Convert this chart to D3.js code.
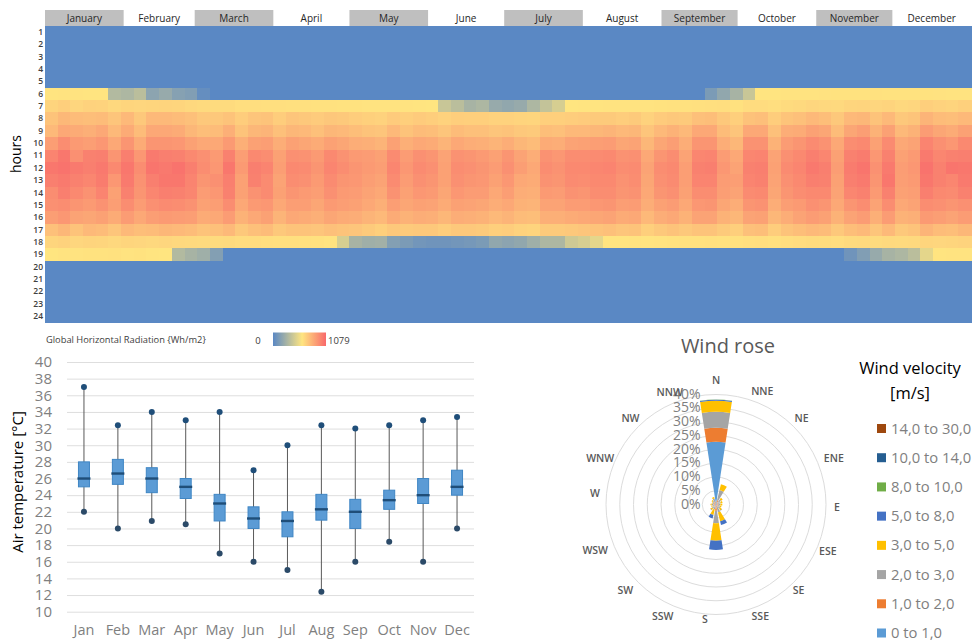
<!DOCTYPE html>
<html>
<head>
<meta charset="utf-8">
<title>Climate summary</title>
<script src="https://cdn.jsdelivr.net/npm/d3@7"></script>
<style>
  body { margin: 0; background: #fff; }
  svg { display: block; }
  text { font-family: "Open Sans", sans-serif; }
</style>
</head>
<body>
<div id="chart"></div>
<script>
// ---- heatmap data: Wh/m2, one value per 5 days of the year (73 values per hour)
const months = ["January", "February", "March", "April", "May", "June", "July", "August", "September", "October", "November", "December"];
const monthDays = [31, 28, 31, 30, 31, 30, 31, 31, 30, 31, 30, 31];
const hours = d3.range(1, 25);

const hour06 = [70,75,75,70,65,32,30,35,18,22, 16,14,4,0,0,0,0,0,0,0, 0,0,0,0,0,0,0,0,0,0, 0,0,0,0,0,0,0,0,0,0, 0,0,0,0,0,0,0,0,0,0, 0,0,12,20,28,40,65,72,75,78, 80,82,85,85,88,90,88,85,85,85, 82,80,78];
const hour07 = [200,240,180,220,210,170,190,180,190,200, 190,170,150,140,140,120,120,110,110,105, 100,95,90,85,85,80,80,78,75,72, 60,40,35,28,30,22,20,22,30,38, 45,60,70,72,75,78,80,80,85,90, 95,100,110,115,95,130,130,120,140,160, 180,170,160,190,200,180,200,170,180,240, 220,200,230];
const hour08 = [340,430,400,380,400,320,420,300,420,420, 400,360,300,300,340,260,320,340,260,320, 300,270,310,290,260,230,220,270,240,270, 250,220,250,240,240,220,220,200,190,240, 240,260,270,280,280,260,280,220,270,300, 280,360,380,300,240,350,370,260,330,360, 420,380,300,420,440,340,420,300,330,460, 400,380,420];
const hour09 = [420,560,540,500,560,420,540,400,560,560, 540,440,380,400,500,340,440,460,360,440, 420,360,440,420,380,340,320,420,340,400, 380,320,400,360,360,320,340,300,280,380, 360,420,420,440,460,420,440,320,420,480, 420,560,560,400,320,560,560,360,520,540, 620,580,400,580,640,480,620,420,480,660, 580,540,620];
const hour10 = [640,780,680,640,700,560,720,540,720,720, 700,620,560,560,680,500,620,640,520,620, 580,540,620,580,520,500,460,620,500,560, 540,460,560,520,500,460,520,440,400,540, 520,600,620,640,660,580,600,440,580,640, 520,720,720,520,440,740,740,480,660,720, 800,740,560,780,820,620,800,560,600,860, 760,700,820];
const hour11 = [860,960,760,880,900,720,900,700,940,900, 880,820,760,680,880,640,820,780,620,760, 740,680,820,740,680,660,620,800,660,760, 720,600,740,720,680,620,720,600,520,740, 700,780,780,800,820,740,760,560,720,780, 600,840,860,660,560,840,860,600,760,820, 900,840,620,880,920,700,880,620,680,940, 840,880,900];
const hour12 = [960,1000,940,900,950,820,960,780,980,950, 1000,900,780,700,960,680,900,860,640,820, 800,720,850,780,720,680,640,840,700,800, 760,620,780,760,720,660,760,640,560,780, 740,820,820,840,860,780,800,600,780,820, 640,880,900,700,600,880,900,620,800,850, 950,900,650,920,980,750,940,650,700,1000, 880,980,960];
const hour13 = [900,940,880,840,920,700,940,740,900,960, 960,860,720,760,900,620,880,800,600,780, 760,680,800,720,700,640,600,800,660,760, 720,620,760,720,700,620,700,560,540,740, 720,800,780,820,820,740,780,580,760,800, 640,860,860,660,640,860,880,600,760,820, 900,880,620,900,940,720,960,640,680,960, 880,840,940];
const hour14 = [780,900,820,740,860,620,880,720,840,900, 880,840,660,700,880,620,740,800,620,720, 680,640,760,680,660,600,560,740,620,700, 680,580,700,660,660,560,640,520,500,680, 660,740,720,780,780,720,740,560,720,760, 620,780,780,640,600,800,820,580,720,780, 820,820,600,840,880,680,880,620,640,900, 820,800,880];
const hour15 = [760,780,720,680,740,640,780,660,760,800, 780,740,620,640,780,560,680,700,560,640, 640,580,680,640,620,560,500,640,580,620, 600,540,620,600,580,520,560,480,460,600, 600,660,660,700,720,640,660,520,620,660, 560,700,720,580,520,720,740,520,640,680, 760,720,560,720,780,600,780,560,600,780, 760,720,760];
const hour16 = [640,700,600,580,620,540,660,560,640,680, 660,640,540,560,660,480,560,620,460,560, 540,500,580,540,520,460,420,540,480,520, 500,440,520,500,480,420,460,400,380,500, 500,540,560,580,600,540,560,420,520,560, 480,600,600,480,440,600,620,440,520,600, 660,620,480,600,660,500,660,480,500,680, 640,600,660];
const hour17 = [360,440,340,420,400,320,420,380,400,440, 420,400,340,360,420,300,360,400,300,340, 340,320,360,340,320,280,240,300,280,300, 300,260,300,300,280,240,260,220,200,280, 280,300,320,340,360,320,340,240,300,340, 300,340,340,280,240,360,380,260,340,380, 420,400,300,380,420,320,420,300,340,460, 400,380,440];
const hour18 = [190,220,180,200,190,170,190,180,170,180, 170,160,150,140,150,130,130,120,110,110, 100,90,80,45,28,25,26,15,12,9, 8,8,9,10,12,20,18,20,25,30, 30,42,45,50,65,70,75,70,80,85, 90,95,100,95,90,110,115,105,120,130, 140,135,125,150,160,140,160,150,160,190, 180,190,210];
const hour19 = [60,75,80,85,85,90,80,85,70,60, 32,28,25,15,0,0,0,0,0,0, 0,0,0,0,0,0,0,0,0,0, 0,0,0,0,0,0,0,0,0,0, 0,0,0,0,0,0,0,0,0,0, 0,0,0,0,0,0,0,0,0,0, 0,0,0,8,14,22,28,30,35,50, 70,75,80];
const sunHours = { 6: hour06, 7: hour07, 8: hour08, 9: hour09, 10: hour10, 11: hour11, 12: hour12, 13: hour13, 14: hour14, 15: hour15, 16: hour16, 17: hour17, 18: hour18, 19: hour19 };

// ---- box plot data: air temperature per month
const shortMonths = ["Jan", "Feb", "Mar", "Apr", "May", "Jun", "Jul", "Aug", "Sep", "Oct", "Nov", "Dec"];
const tempMin = [22, 20, 20.9, 20.5, 17, 16, 15, 12.4, 16, 18.4, 16, 20];
const tempQ1 = [25, 25.3, 24.3, 23.6, 20.9, 20, 19, 21, 20, 22.3, 23, 24];
const tempMedian = [26, 26.6, 26, 25, 23, 21.2, 20.9, 22.3, 22, 23.4, 24, 25];
const tempQ3 = [28, 28.3, 27.3, 26, 24.1, 22.6, 22, 24.1, 23.5, 24.6, 26, 27];
const tempMax = [37, 32.4, 34, 33, 34, 27, 30, 32.4, 32, 32.4, 33, 33.4];

// ---- wind rose data: % of time per direction and velocity class
const directions = ["N", "NNE", "NE", "ENE", "E", "ESE", "SE", "SSE", "S", "SSW", "SW", "WSW", "W", "WNW", "NW", "NNW"];
const wind0to1 = [22.8, 0.8, 0.4, 0.3, 0.3, 0.3, 0.3, 0.5, 0.8, 0.3, 0.3, 0.3, 0.3, 0.3, 0.3, 0.4];
const wind1to2 = [5.1, 0.8, 0.5, 0.4, 0.4, 0.4, 0.4, 0.5, 1.5, 0.3, 0.4, 0.4, 0.5, 0.4, 0.5, 0.6];
const wind2to3 = [5.8, 3.8, 1.4, 1.1, 0.9, 0.8, 1.2, 2.0, 4.5, 1.3, 1.1, 0.7, 0.8, 0.6, 0.8, 1.2];
const wind3to5 = [4.0, 2.2, 0.7, 0.7, 0.7, 0.6, 0.8, 3.3, 6.4, 2.0, 0.7, 0.4, 0.4, 0.3, 0.4, 0.6];
const wind5to8 = [0.4, 0, 0, 0, 0, 0, 0.1, 1.4, 3.3, 1.3, 0.1, 0, 0, 0, 0, 0];
const wind8to10 = [0.05, 0, 0, 0, 0, 0, 0, 0, 0, 0, 0, 0, 0, 0, 0, 0];
const wind10to14 = [0, 0, 0, 0, 0, 0, 0, 0, 0, 0, 0, 0, 0, 0, 0, 0];
const wind14to30 = [0, 0, 0, 0, 0, 0, 0, 0, 0, 0, 0, 0, 0, 0, 0, 0];
const windClasses = ["0 to 1,0", "1,0 to 2,0", "2,0 to 3,0", "3,0 to 5,0", "5,0 to 8,0", "8,0 to 10,0", "10,0 to 14,0", "14,0 to 30,0"];
const windSeries = [wind0to1, wind1to2, wind2to3, wind3to5, wind5to8, wind8to10, wind10to14, wind14to30];
const windColors = ["#5b9bd5", "#ed7d31", "#a5a5a5", "#ffc000", "#4472c4", "#70ad47", "#255e91", "#9e480e"];

const svg = d3.select("#chart").append("svg").attr("width", 974).attr("height", 643);

// ---- heatmap
const heat = { left: 45, right: 971, top: 26, bottom: 322.5 };
const dayScale = d3.scaleLinear().domain([0, 365]).range([heat.left, heat.right]);
const hourScale = d3.scaleBand().domain(hours).range([heat.top, heat.bottom]);
const heatColor = d3.scaleLinear().domain([0, 60, 1079]).range(["#5a88c4", "#ffe580", "#f8696b"]);

const monthStart = [0, ...d3.cumsum(monthDays)];
const monthGroup = svg.append("g");
months.forEach(function(m, i) {
    if (i % 2 == 0) {
        monthGroup.append("rect")
            .attr("x", dayScale(monthStart[i]))
            .attr("y", 10)
            .attr("width", dayScale(monthStart[i + 1]) - dayScale(monthStart[i]))
            .attr("height", 16)
            .attr("fill", "#bfbfbf");
    }
    monthGroup.append("text")
        .attr("x", (dayScale(monthStart[i]) + dayScale(monthStart[i + 1])) / 2)
        .attr("y", 22)
        .attr("text-anchor", "middle")
        .attr("font-size", "10px")
        .attr("fill", "#262626")
        .text(m);
});

const cells = [];
hours.forEach(function(h) {
    d3.range(73).forEach(function(b) {
        cells.push({ hour: h, bin: b, value: sunHours[h] ? sunHours[h][b] : 0 });
    });
});

svg.append("g")
    .attr("shape-rendering", "crispEdges")
    .selectAll("rect")
    .data(cells)
    .enter()
    .append("rect")
    .attr("x", d => dayScale(d.bin * 5))
    .attr("y", d => hourScale(d.hour))
    .attr("width", dayScale(5) - dayScale(0) + 0.5)
    .attr("height", hourScale.bandwidth() + 0.5)
    .attr("fill", d => heatColor(d.value));

const hourAxis = svg.append("g")
    .attr("transform", `translate(${heat.left}, 0)`)
    .call(d3.axisLeft(hourScale).tickSize(0).tickPadding(2));
hourAxis.select(".domain").remove();
hourAxis.selectAll("text")
    .attr("font-size", "8.5px")
    .attr("font-weight", "600")
    .attr("fill", "#404040");

svg.append("text")
    .attr("transform", "translate(21, 154) rotate(-90)")
    .attr("text-anchor", "middle")
    .attr("font-size", "14px")
    .attr("font-weight", "500")
    .attr("fill", "#000")
    .text("hours");

// radiation legend
const defs = svg.append("defs");
const gradient = defs.append("linearGradient").attr("id", "radGradient");
gradient.append("stop").attr("offset", "0%").attr("stop-color", "#5a88c4");
gradient.append("stop").attr("offset", "55%").attr("stop-color", "#ffe580");
gradient.append("stop").attr("offset", "100%").attr("stop-color", "#f8696b");

svg.append("text")
    .attr("x", 46).attr("y", 343)
    .attr("font-size", "9.3px")
    .attr("fill", "#404040")
    .text("Global Horizontal Radiation {Wh/m2}");
svg.append("text")
    .attr("x", 258).attr("y", 343.5)
    .attr("text-anchor", "middle")
    .attr("font-size", "9.5px")
    .attr("fill", "#404040")
    .text("0");
svg.append("rect")
    .attr("x", 273).attr("y", 332.5)
    .attr("width", 53).attr("height", 13.5)
    .attr("fill", "url(#radGradient)");
svg.append("text")
    .attr("x", 328).attr("y", 343.5)
    .attr("font-size", "9.5px")
    .attr("fill", "#404040")
    .text("1079");

// ---- box plot
const box = { left: 67, right: 474, top: 362, bottom: 611.7 };
const tempScale = d3.scaleLinear().domain([10, 40]).range([box.bottom, box.top]);
const monthScale = d3.scaleBand().domain(shortMonths).range([box.left, box.right]);

const tempAxis = svg.append("g")
    .attr("transform", `translate(${box.left}, 0)`)
    .call(d3.axisLeft(tempScale)
        .tickValues(d3.range(10, 41, 2))
        .tickSize(-(box.right - box.left))
        .tickPadding(15));
tempAxis.select(".domain").remove();
tempAxis.selectAll("line").attr("stroke", "#dedede");
tempAxis.selectAll("text").attr("font-size", "15px").attr("fill", "#7f7f7f");

const monthAxis = svg.append("g")
    .attr("transform", `translate(0, ${box.bottom})`)
    .call(d3.axisBottom(monthScale).tickSize(0).tickPadding(13));
monthAxis.select(".domain").remove();
monthAxis.selectAll("text").attr("font-size", "14.5px").attr("fill", "#7f7f7f");

svg.append("text")
    .attr("transform", "translate(23, 482) rotate(-90)")
    .attr("text-anchor", "middle")
    .attr("font-size", "15px")
    .attr("fill", "#000")
    .text("Air temperature [°C]");

const boxWidth = 11;
const boxData = shortMonths.map(function(m, i) {
    return { month: m, min: tempMin[i], q1: tempQ1[i], median: tempMedian[i], q3: tempQ3[i], max: tempMax[i] };
});
const boxes = svg.append("g").selectAll("g")
    .data(boxData)
    .enter()
    .append("g")
    .attr("transform", d => `translate(${monthScale(d.month) + monthScale.bandwidth() / 2}, 0)`);

boxes.append("line")
    .attr("y1", d => tempScale(d.min))
    .attr("y2", d => tempScale(d.max))
    .attr("stroke", "#595959")
    .attr("stroke-width", 1);
boxes.append("rect")
    .attr("x", -boxWidth / 2)
    .attr("width", boxWidth)
    .attr("y", d => tempScale(d.q3))
    .attr("height", d => tempScale(d.q1) - tempScale(d.q3))
    .attr("fill", "#5b9bd5")
    .attr("stroke", "#3f86c4")
    .attr("stroke-width", 1);
boxes.append("line")
    .attr("x1", -6.5)
    .attr("x2", 6.5)
    .attr("y1", d => tempScale(d.median))
    .attr("y2", d => tempScale(d.median))
    .attr("stroke", "#1f4e79")
    .attr("stroke-width", 2.4);
boxes.append("circle")
    .attr("cy", d => tempScale(d.max))
    .attr("r", 3)
    .attr("fill", "#1f4e79");
boxes.append("circle")
    .attr("cy", d => tempScale(d.min))
    .attr("r", 3)
    .attr("fill", "#2b4a68");

// ---- wind rose
const roseX = 716, roseY = 504.5;
const roseScale = d3.scaleLinear().domain([0, 40]).range([0, 110]);
const dirScale = d3.scalePoint().domain(directions).range([0, 360 - 22.5]);
const halfWedge = 8.8 * Math.PI / 180;

const rose = svg.append("g").attr("transform", `translate(${roseX}, ${roseY})`);

rose.append("g").selectAll("circle")
    .data(d3.range(5, 41, 5))
    .enter()
    .append("circle")
    .attr("r", d => roseScale(d))
    .attr("fill", "none")
    .attr("stroke", "#dcdcdc");

// stack the velocity classes outwards
const windTable = directions.map(function(dir, i) {
    let row = { dir: dir };
    windClasses.forEach(function(c, k) { row[c] = windSeries[k][i]; });
    return row;
});
const windStack = d3.stack().keys(windClasses)(windTable);
const arc = d3.arc();

windStack.forEach(function(layer, k) {
    rose.append("g").selectAll("path")
        .data(layer)
        .enter()
        .append("path")
        .attr("fill", windColors[k])
        .attr("d", function(d) {
            let a = dirScale(d.data.dir) * Math.PI / 180;
            return arc({
                innerRadius: roseScale(d[0]),
                outerRadius: roseScale(d[1]),
                startAngle: a - halfWedge,
                endAngle: a + halfWedge
            });
        });
});

rose.append("g").selectAll("text")
    .data(d3.range(0, 41, 5))
    .enter()
    .append("text")
    .attr("x", -15.5)
    .attr("y", d => -roseScale(d) + 4)
    .attr("text-anchor", "end")
    .attr("font-size", "14px")
    .attr("fill", "#7f7f7f")
    .text(d => d + "%");

// compass labels sit a bit off the true polar position in the original
const labelRadius = 121;
const labelShiftX = [0, 0, 0, 6, 0, 0, -3, -2, -11, -7, -5, -9, 0, -4, 0, 0];
const labelShiftY = [-3, -1, 0, 0, 3, 1, 0, 0, -6, 0, 0, 0, -11, 0, 0, 0];
rose.append("g").selectAll("text")
    .data(directions)
    .enter()
    .append("text")
    .attr("x", (d, i) => labelRadius * Math.sin(dirScale(d) * Math.PI / 180) + labelShiftX[i])
    .attr("y", (d, i) => -labelRadius * Math.cos(dirScale(d) * Math.PI / 180) + labelShiftY[i] + 3.5)
    .attr("text-anchor", "middle")
    .attr("font-size", "10.5px")
    .attr("font-weight", "600")
    .attr("fill", "#595959")
    .text(d => d);

svg.append("text")
    .attr("x", 728).attr("y", 353)
    .attr("text-anchor", "middle")
    .attr("font-size", "20px")
    .attr("fill", "#595959")
    .text("Wind rose");

// wind legend
svg.append("text")
    .attr("x", 910).attr("y", 374)
    .attr("text-anchor", "middle")
    .attr("font-size", "16.5px")
    .attr("fill", "#000")
    .text("Wind velocity");
svg.append("text")
    .attr("x", 910).attr("y", 399)
    .attr("text-anchor", "middle")
    .attr("font-size", "16.5px")
    .attr("fill", "#000")
    .text("[m/s]");

const legendScale = d3.scalePoint()
    .domain(windClasses.slice().reverse())
    .range([428.5, 633]);
const legendItems = svg.append("g").selectAll("g")
    .data(windClasses)
    .enter()
    .append("g")
    .attr("transform", d => `translate(877, ${legendScale(d)})`);
legendItems.append("rect")
    .attr("y", -4.5)
    .attr("width", 9)
    .attr("height", 9)
    .attr("fill", (d, i) => windColors[i]);
legendItems.append("text")
    .attr("x", 14)
    .attr("y", 5)
    .attr("font-size", "14.8px")
    .attr("fill", "#7f7f7f")
    .text(d => d);
</script>
</body>
</html>
